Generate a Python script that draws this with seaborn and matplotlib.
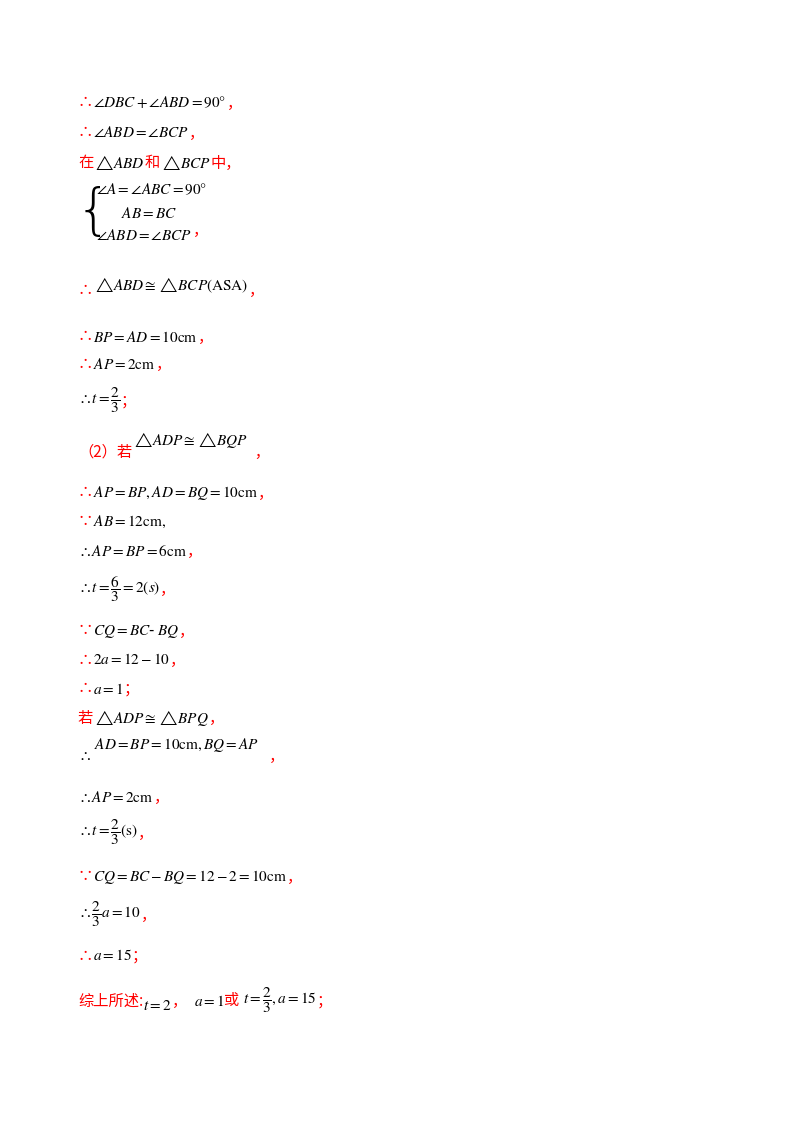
import matplotlib
matplotlib.use("Agg")
import matplotlib.pyplot as plt
import seaborn as sns

sns.set_theme(style="white")
plt.rcParams['font.family'] = ['Noto Sans CJK SC', 'DejaVu Sans']
plt.rcParams['mathtext.fontset'] = 'stix'

R, K = "#ff0000", "black"
# each line: y pixel, list of (text, colour, vertical offset in px)
lines = [
    (103, [("∴", R, 0), (r"$\angle DBC+\angle ABD=90°$", K, 0), ("，", R, 0)]),
    (133, [("∴", R, 0), (r"$\angle ABD=\angle BCP$", K, 0), ("，", R, 0)]),
    (163, [("在", R, 0), (r"$\triangle\!ABD$", K, 0), ("和", R, 0), (r"$\triangle\!BCP$", K, 0), ("中，", R, 0)]),
    (290, [("∴", R, 0), (r"$\triangle\!ABD\cong\triangle\!BCP\left(\mathrm{ASA}\right)$", K, -5), ("，", R, 0)]),
    (337, [("∴", R, 0), (r"$BP=AD=10\mathrm{cm}$", K, 0), ("，", R, 0)]),
    (364, [("∴", R, 0), (r"$AP=2\mathrm{cm}$", K, 0), ("，", R, 0)]),
    (401, [(r"$\therefore t=\dfrac{2}{3}$", K, 0), ("；", R, 0)]),
    (452, [("（2）若", R, 0), (r"$\triangle\!ADP\cong\triangle\!BQP$", K, -12), ("  ，", R, 0)]),
    (493, [("∴", R, 0), (r"$AP=BP,AD=BQ=10\mathrm{cm}$", K, 0), ("，", R, 0)]),
    (522, [("∵", R, 0), (r"$AB=12\mathrm{cm},$", K, 0)]),
    (551, [(r"$\therefore AP=BP=6\mathrm{cm}$", K, 0), ("，", R, 0)]),
    (589, [(r"$\therefore t=\dfrac{6}{3}=2\left(s\right)$", K, 0), ("，", R, 0)]),
    (631, [("∵", R, 0), (r"$CQ=BC$- $BQ$", K, 0), ("，", R, 0)]),
    (660, [("∴", R, 0), (r"$2a=12-10$", K, 0), ("，", R, 0)]),
    (689, [("∴", R, 0), (r"$a=1$", K, 0), ("；", R, 0)]),
    (718, [("若", R, 0), (r"$\triangle\!ADP\cong\triangle\!BPQ$", K, 0), ("，", R, 0)]),
    (756, [(r"$\therefore$ ", K, 0), (r"$AD=BP=10\mathrm{cm},BQ=AP$", K, -11), ("   ，", R, 0)]),
    (797, [(r"$\therefore AP=2\mathrm{cm}$", K, 0), ("，", R, 0)]),
    (833, [(r"$\therefore t=\dfrac{2}{3}\left(\mathrm{s}\right)$", K, 0), ("，", R, 0)]),
    (877, [("∵", R, 0), (r"$CQ=BC-BQ=12-2=10\mathrm{cm}$", K, 0), ("，", R, 0)]),
    (915, [(r"$\therefore\dfrac{2}{3}a=10$", K, 0), ("，", R, 0)]),
    (956, [("∴", R, 0), (r"$a=15$", K, 0), ("；", R, 0)]),
    (1001, [("综上所述:", R, 0), (r"$t=2$", K, 4), ("，  ", R, 0), (r"$a=1$", K, 0), ("或 ", R, 0),
            (r"$t=\dfrac{2}{3},a=15$", K, 0), ("；", R, 0)]),
]
system = [r"$\angle A=\angle ABC=90°$", r"$AB=BC$", r"$\angle ABD=\angle BCP$"]
system_y = [190, 213, 236]
system_x = [96, 121, 96]

W, H = 800, 1132
fig = plt.figure(figsize=(8, 11.32), dpi=100)
fig.patch.set_facecolor("white")
r = fig.canvas.get_renderer()
FS = 11

def line(x, y, segs):
    for s, c, dy in segs:
        t = fig.text(x / W, 1 - (y + dy) / H, s, color=c, fontsize=FS, va="center", ha="left")
        x += t.get_window_extent(renderer=r).width

for y, segs in lines:
    line(78, y, segs)

fig.text(76 / W, 1 - 213 / H, "{", fontsize=40, va="center", ha="left",
         family="DejaVu Sans", fontweight="ultralight", color=K)
for s, x, y in zip(system, system_x, system_y):
    fig.text(x / W, 1 - y / H, s, fontsize=FS, va="center", ha="left", color=K)
fig.text(193 / W, 1 - 230 / H, "，", fontsize=FS, va="center", color=R)

fig.savefig("out.png", dpi=100, facecolor="white")
